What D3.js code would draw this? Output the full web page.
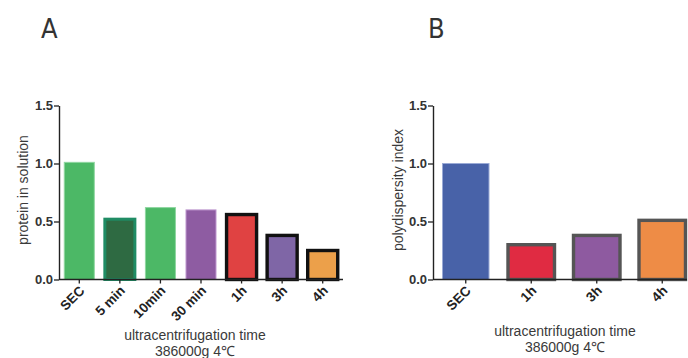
<!DOCTYPE html>
<html>
<head>
<meta charset="utf-8">
<script src="https://cdn.jsdelivr.net/npm/d3@7"></script>
<style>
  html, body { margin: 0; padding: 0; background: #fff; }
  svg { display: block; }
  text { font-family: "Liberation Sans", Arial, sans-serif; fill: #2a2a2a; }
</style>
</head>
<body>
<svg id="chart" width="688" height="358"></svg>
<script>
// Panel A: protein remaining in solution after ultracentrifugation
const catsA = ["SEC", "5 min", "10min", "30 min", "1h", "3h", "4h"];
const valsA = [1.01, 0.52, 0.62, 0.60, 0.56, 0.38, 0.25];
const fillA = ["#4cb866", "#2e6a42", "#4cb866", "#8e5ca2", "#e04242", "#7f66a6", "#eca04a"];
const strokeA = ["#8fd6a0", "#1f8c64", "#8fd6a0", "#c09ad0", "#111111", "#111111", "#111111"];
const widthA = [1, 3, 1, 1, 3.4, 3.4, 3.4];

// Panel B: polydispersity index
const catsB = ["SEC", "1h", "3h", "4h"];
const valsB = [1.00, 0.30, 0.38, 0.51];
const fillB = ["#4862a8", "#e02b42", "#8e5aa0", "#ee8c46"];
const strokeB = ["#9aaad6", "#555555", "#555555", "#555555"];
const widthB = [1, 3.4, 3.4, 3.4];

const yTicks = [0, 0.5, 1.0, 1.5];
const xTitle = ["ultracentrifugation time", "386000g 4\u2103"];

const svg = d3.select("#chart");

function panel(cfg) {
  const g = svg.append("g");
  const x = d3.scaleBand().domain(cfg.cats).range(cfg.xRange)
    .paddingInner(cfg.padIn).paddingOuter(cfg.padIn / 2);
  const y = d3.scaleLinear().domain([0, 1.5]).range([279.5, 105.5]);

  // bars
  g.selectAll("rect.bar").data(cfg.cats).join("rect")
    .attr("class", "bar")
    .attr("x", d => x(d))
    .attr("width", x.bandwidth())
    .attr("y", (d, i) => y(cfg.vals[i]))
    .attr("height", (d, i) => y(0) - y(cfg.vals[i]))
    .attr("fill", (d, i) => cfg.fill[i])
    .attr("stroke", (d, i) => cfg.stroke[i])
    .attr("stroke-width", (d, i) => cfg.sw[i]);

  // y axis
  const ya = g.append("g")
    .attr("transform", `translate(${cfg.xRange[0]},0)`)
    .call(d3.axisLeft(y).tickValues(yTicks).tickFormat(d3.format(".1f"))
      .tickSize(5).tickSizeOuter(0));
  ya.select(".domain").attr("stroke", "#222").attr("stroke-width", 1.4);
  ya.selectAll(".tick line").attr("stroke", "#222").attr("stroke-width", 1.3);
  ya.selectAll(".tick text")
    .attr("x", -6)
    .style("font-family", "'Liberation Sans', Arial, sans-serif")
    .style("font-size", "13px").style("font-weight", "bold").style("fill", "#333");

  // x axis
  const xa = g.append("g")
    .attr("transform", `translate(0,${y(0)})`)
    .call(d3.axisBottom(x).tickSize(4).tickSizeOuter(0));
  xa.select(".domain").attr("stroke", "#222").attr("stroke-width", 1.4)
    .attr("d", `M${cfg.xRange[0]},0H${cfg.axisEnd}`);
  xa.selectAll(".tick line").attr("stroke", "#222").attr("stroke-width", 1.3);
  xa.selectAll(".tick text")
    .attr("text-anchor", "end")
    .attr("x", 0).attr("y", 0).attr("dy", 0)
    .attr("transform", "translate(6,12) rotate(-45)")
    .style("font-family", "'Liberation Sans', Arial, sans-serif")
    .style("font-size", "13.5px").style("font-weight", "bold").style("fill", "#222");

  // axis titles
  g.append("text")
    .attr("transform", `translate(${cfg.yTitleX},190) rotate(-90)`)
    .attr("text-anchor", "middle")
    .style("font-size", "14px").style("fill", "#3a3a3a")
    .text(cfg.yTitle);
  g.selectAll("text.xt").data(xTitle).join("text")
    .attr("class", "xt")
    .attr("x", cfg.xTitleX)
    .attr("y", (d, i) => cfg.xTitleY + i * 16)
    .attr("text-anchor", "middle")
    .style("font-size", "14px").style("fill", "#3a3a3a")
    .text(d => d);

  // panel letter
  g.append("text")
    .attr("x", cfg.letterX).attr("y", 38)
    .style("font-family", "'Liberation Sans Narrow', 'DejaVu Sans Condensed', sans-serif")
    .style("font-size", "27px").style("fill", "#333")
    .text(cfg.letter);
}

panel({
  cats: catsA, vals: valsA, fill: fillA, stroke: strokeA, sw: widthA,
  xRange: [59, 343], axisEnd: 343, padIn: 0.26,
  yTitle: "protein in solution", yTitleX: 28,
  xTitleX: 195, xTitleY: 340, letter: "A", letterX: 41
});

panel({
  cats: catsB, vals: valsB, fill: fillB, stroke: strokeB, sw: widthB,
  xRange: [433, 695], axisEnd: 687, padIn: 0.29,
  yTitle: "polydispersity index", yTitleX: 403,
  xTitleX: 565, xTitleY: 336, letter: "B", letterX: 428
});
</script>
</body>
</html>
